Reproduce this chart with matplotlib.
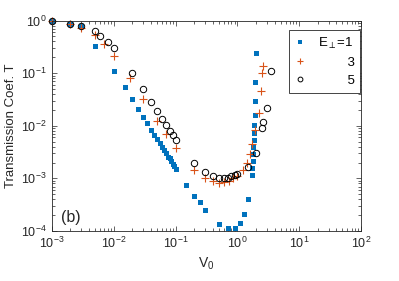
import numpy as np
import matplotlib
matplotlib.use('Agg')
import matplotlib.pyplot as plt

plt.rcParams['font.family'] = ['Liberation Sans', 'DejaVu Sans']
plt.rcParams['mathtext.fontset'] = 'custom'
plt.rcParams['mathtext.rm'] = 'Liberation Sans'
plt.rcParams['mathtext.it'] = 'Liberation Sans:italic'

# E_perp = 1
V1 = [0.001, 0.002, 0.003, 0.005, 0.01, 0.015, 0.02, 0.025, 0.03, 0.035, 0.04,
      0.045, 0.05, 0.055, 0.06, 0.065, 0.07, 0.075, 0.08, 0.085, 0.09, 0.095,
      0.1, 0.15, 0.2, 0.25, 0.3, 0.5, 0.7, 0.9, 1.1, 1.3, 1.5, 1.73, 1.75,
      1.77, 1.79, 1.82, 1.84, 1.86, 1.88, 1.9, 1.92, 1.94, 1.98]
T1 = [1.0, 0.86, 0.78, 0.33, 0.112, 0.054, 0.032, 0.0205, 0.0145, 0.0111,
      0.0083, 0.0067, 0.0056, 0.0047, 0.0040, 0.0034, 0.0030, 0.0026, 0.0024,
      0.0021, 0.0019, 0.0017, 0.00148, 0.00074, 0.00047, 0.00035, 0.00025,
      0.000136, 0.000112, 0.000115, 0.000143, 0.00021, 0.00041, 0.00116,
      0.00157, 0.00213, 0.0029, 0.0039, 0.0054, 0.0072, 0.0103, 0.016, 0.0295,
      0.067, 0.244]

# E_perp = 3
V3 = [0.001, 0.002, 0.003, 0.005, 0.007, 0.01, 0.018, 0.03, 0.05, 0.07, 0.1,
      0.2, 0.3, 0.4, 0.5, 0.6, 0.72, 0.85, 1.0, 1.25, 1.45, 1.62, 1.75, 1.96,
      2.21, 2.42, 2.51, 2.6]
T3 = [1.0, 0.86, 0.71, 0.52, 0.357, 0.214, 0.08, 0.0318, 0.0125, 0.0069,
      0.0037, 0.00144, 0.001, 0.00089, 0.00082, 0.00085, 0.00089, 0.001,
      0.00111, 0.00144, 0.00198, 0.0029, 0.0045, 0.0083, 0.0172, 0.0457,
      0.099, 0.136]

# E_perp = 5
V5 = [0.001, 0.002, 0.003, 0.005, 0.006, 0.008, 0.01, 0.02, 0.03, 0.04, 0.05,
      0.06, 0.07, 0.08, 0.09, 0.1, 0.2, 0.3, 0.4, 0.5, 0.6, 0.7, 0.8, 0.9,
      1.0, 1.5, 2.0, 2.5, 2.6, 3.0, 3.5]
T5 = [1.0, 0.86, 0.78, 0.63, 0.51, 0.39, 0.30, 0.102, 0.049, 0.0286, 0.019,
      0.0134, 0.0103, 0.0080, 0.0066, 0.0054, 0.00198, 0.00133, 0.00111,
      0.00103, 0.00101, 0.00103, 0.00109, 0.00114, 0.00121, 0.00166, 0.0030,
      0.0090, 0.0118, 0.0221, 0.11]

labels = ['E$_\\perp$=1', '\u2007\u2007\u2007\u20073', '\u2007\u2007\u2007\u20075']

fig = plt.figure(figsize=(3.99, 2.81), dpi=100)
ax = fig.add_axes([0.130, 0.178, 0.775, 0.749])

ax.plot(V1, T1, 's', color='#0072BD', markersize=3.6, markeredgewidth=0,
        label=labels[0], clip_on=False)
ax.plot(V3, T3, '+', color='#D95319', markersize=5.5, markeredgewidth=0.8,
        label=labels[1], clip_on=False)
ax.plot(V5, T5, 'o', color='black', markerfacecolor='none', markersize=4.6,
        markeredgewidth=0.7, label=labels[2], clip_on=False)

ax.set_xscale('log')
ax.set_yscale('log')
ax.set_xlim(1e-3, 1e2)
ax.set_ylim(1e-4, 1)

ax.tick_params(which='both', direction='in', top=True, right=True,
               colors='#262626', labelsize=9, width=0.5)
ax.tick_params(which='major', length=3.5)
ax.tick_params(which='minor', length=2)
for s in ax.spines.values():
    s.set_linewidth(0.6)
    s.set_color('#262626')

ax.set_xlabel('V$_0$', fontsize=10, color='#262626', labelpad=3)
ax.set_ylabel('Transmission Coef. T', fontsize=9.5, color='#262626', labelpad=3)
ax.text(0.03, 0.045, '(b)', transform=ax.transAxes, fontsize=11.5, color='#262626')

leg = ax.legend(loc='upper right', bbox_to_anchor=(1.0, 0.96), fontsize=9.5,
                fancybox=False, framealpha=1, edgecolor='#262626',
                handletextpad=0.9, borderpad=0.45, labelspacing=0.45,
                handlelength=0.8, borderaxespad=0.05, markerscale=0.75)
leg.get_frame().set_linewidth(0.6)

fig.savefig('out.png', dpi=100)
